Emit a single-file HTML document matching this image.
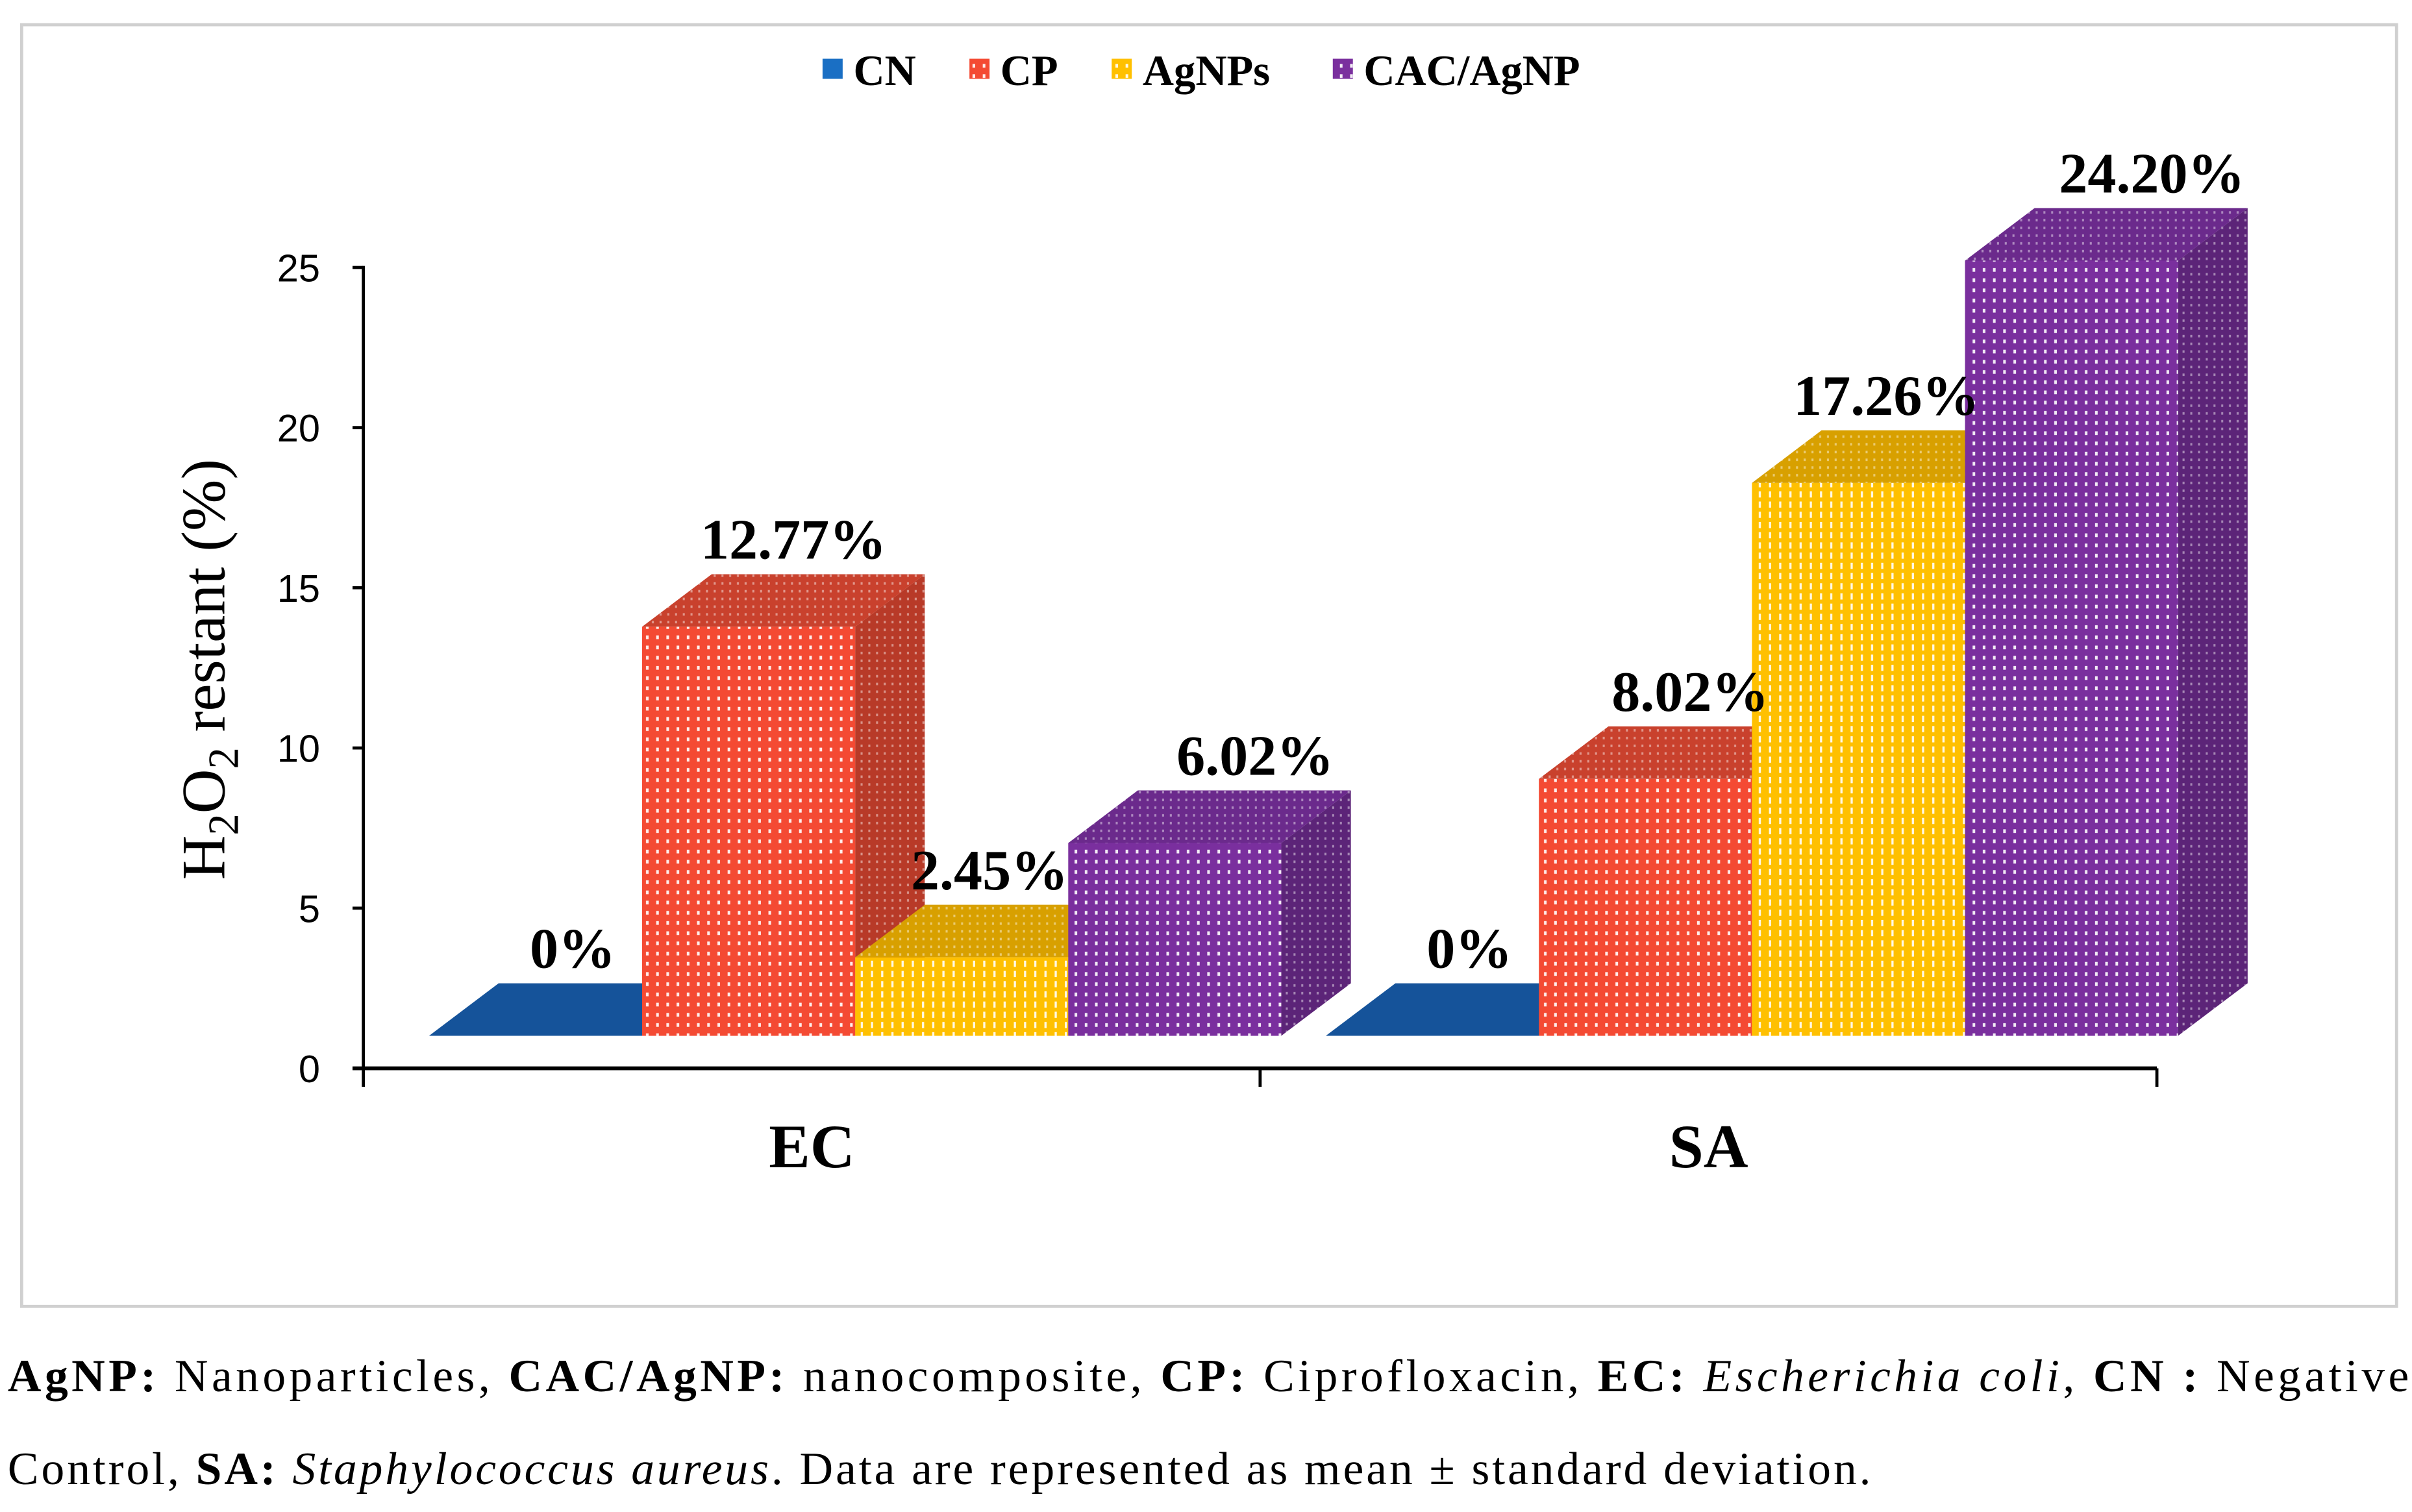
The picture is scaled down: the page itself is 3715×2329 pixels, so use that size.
<!DOCTYPE html>
<html><head><meta charset="utf-8"><style>
html,body{margin:0;padding:0;background:#fff;}
svg{display:block;}
</style></head><body>
<svg width="3715" height="2329" viewBox="0 0 1560 978" preserveAspectRatio="none" xmlns="http://www.w3.org/2000/svg">
<defs>
<pattern id="dots" width="6.6" height="6.6" patternUnits="userSpaceOnUse"><rect x="2" y="1.8" width="1.7" height="2.4" fill="#fff" opacity="0.9"/></pattern>
<pattern id="dotsY" width="6.6" height="6.6" patternUnits="userSpaceOnUse"><rect x="2.3" y="1" width="1.4" height="4" fill="#fff" opacity="0.9"/></pattern>
<pattern id="dotsS" width="5" height="5" patternUnits="userSpaceOnUse"><rect x="1.6" y="1.6" width="1.3" height="1.6" fill="#fff" opacity="0.45"/></pattern>
</defs>
<rect x="14" y="16" width="1536" height="829" fill="#fff" stroke="#d0d0d0" stroke-width="2"/>
<g id="legend"></g>
<g id="axes"></g>
<g id="bars"></g>
<g id="labels"></g>
<text x="145" y="433" transform="rotate(-90 145 433)" text-anchor="middle" font-family="Liberation Serif, serif" font-size="40" fill="#000">H<tspan font-size="28" dy="9">2</tspan><tspan dy="-9">O</tspan><tspan font-size="28" dy="9">2</tspan><tspan dy="-9"> restant (%)</tspan></text>
<text x="5" y="900" textLength="1553" lengthAdjust="spacing" font-family="Liberation Serif, serif" font-size="30" fill="#000"><tspan font-weight="bold">AgNP:</tspan> Nanoparticles, <tspan font-weight="bold">CAC/AgNP:</tspan> nanocomposite, <tspan font-weight="bold">CP:</tspan> Ciprofloxacin, <tspan font-weight="bold">EC:</tspan> <tspan font-style="italic">Escherichia coli</tspan>, <tspan font-weight="bold">CN :</tspan> Negative</text>
<text x="5" y="960" textLength="1205" lengthAdjust="spacing" font-family="Liberation Serif, serif" font-size="30" fill="#000">Control, <tspan font-weight="bold">SA:</tspan> <tspan font-style="italic">Staphylococcus aureus</tspan>. Data are represented as mean ± standard deviation.</text>
</svg>
<script>
const categories = ["EC", "SA"];
const seriesNames = ["CN", "CP", "AgNPs", "CAC/AgNP"];
const valuesEC = [0, 12.77, 2.45, 6.02];
const valuesSA = [0, 8.02, 17.26, 24.20];
const valueLabelsEC = ["0%", "12.77%", "2.45%", "6.02%"];
const valueLabelsSA = ["0%", "8.02%", "17.26%", "24.20%"];
const yTicks = [0, 5, 10, 15, 20, 25];

const NS = "http://www.w3.org/2000/svg";
const colors = [
  {front:"#1a5aa0", top:"#15539a", side:"#124780", legend:"#1a6fc4", pat:"dots"},
  {front:"#f44a33", top:"#c9412d", side:"#b83a28", legend:"#f44a33", pat:"dots"},
  {front:"#ffc000", top:"#d8a000", side:"#c89400", legend:"#ffc000", pat:"dotsY"},
  {front:"#7a2f9e", top:"#6b2a8c", side:"#5c2478", legend:"#7a2f9e", pat:"dots"}
];
const labelShift = [24, 29, 18, 52];
const y0 = 691, yPer = 103.6/5;
function yScale(v){ return y0 - v*yPer; }
const FRONT_SHIFT = -21, DX = 45, DY = -34, BW = 137.8;
const groupStart = [277.5, 857.5];
function xBar(g,i){ return groupStart[g] + i*BW; }
function mk(tag, attrs, parent){ const e=document.createElementNS(NS,tag); for(const k in attrs) e.setAttribute(k,attrs[k]); parent.appendChild(e); return e; }

const axes=document.getElementById('axes');
let l=mk('line',{x1:235,y1:172,x2:235,y2:691,stroke:"#000","stroke-width":2},axes);


l=mk('line',{x1:228,y1:691,x2:1395,y2:691,stroke:"#000","stroke-width":2.5},axes);


yTicks.forEach(t=>{
  const y=yScale(t);
  const tk=mk('line',{x1:228,y1:y,x2:235,y2:y,stroke:"#000","stroke-width":2},axes);
  
  
  const tx=mk('text',{x:207,y:y+9,"text-anchor":"end","font-family":"Liberation Sans, sans-serif","font-size":25,fill:"#000"},axes);
  tx.textContent=t;
  
  
});
[235,815,1395].forEach(x=>{
  const tk=mk('line',{x1:x,y1:691,x2:x,y2:703,stroke:"#000","stroke-width":2},axes);
  
  
});
categories.forEach((c,g)=>{
  const tx=mk('text',{x:groupStart[g]+2*BW-28, y:755,"text-anchor":"middle","font-family":"Liberation Serif, serif","font-weight":"bold","font-size":40,fill:"#000"},axes);
  tx.textContent=c;
  
  
});

const bars=document.getElementById('bars'), labels=document.getElementById('labels');
[valuesEC, valuesSA].forEach((vals,g)=>{
  const labs=[valueLabelsEC,valueLabelsSA][g];
  vals.forEach((v,i)=>{
    const x=xBar(g,i), yb=y0+FRONT_SHIFT, yt=yScale(v)+FRONT_SHIFT, c=colors[i];
    const grp=mk('g',{},bars);
    
    
    const side=`${x+BW},${yb} ${x+BW+DX},${yb+DY} ${x+BW+DX},${yt+DY} ${x+BW},${yt}`;
    const top=`${x},${yt} ${x+DX},${yt+DY} ${x+BW+DX},${yt+DY} ${x+BW},${yt}`;
    if(v>0){ mk('polygon',{points:side,fill:c.side},grp); mk('polygon',{points:side,fill:"url(#dotsS)"},grp); }
    mk('polygon',{points:top,fill:c.top},grp);
    if(v>0) mk('polygon',{points:top,fill:"url(#dotsS)"},grp);
    if(v>0){ mk('rect',{x:x,y:yt,width:BW,height:yb-yt,fill:c.front},grp); mk('rect',{x:x,y:yt,width:BW,height:yb-yt,fill:"url(#"+c.pat+")"},grp); }
    const tx=mk('text',{x:x+BW/2+labelShift[i],y:yt+DY-10,"text-anchor":"middle","font-family":"Liberation Serif, serif","font-weight":"bold","font-size":37,fill:"#000"},labels);
    tx.textContent=labs[i];
    
    
  });
});

const legend=document.getElementById('legend');
const legX=[532,627,719,862];
seriesNames.forEach((n,i)=>{
  const gg=mk('g',{},legend);
  
  
  mk('rect',{x:legX[i],y:38,width:13,height:13,fill:colors[i].legend},gg);
  if(i>0) mk('rect',{x:legX[i],y:38,width:13,height:13,fill:"url(#dots)"},gg);
  const tx=mk('text',{x:legX[i]+20,y:55,"font-family":"Liberation Serif, serif","font-weight":"bold","font-size":28,fill:"#000"},gg);
  tx.textContent=n;
});
</script>
</body></html>
